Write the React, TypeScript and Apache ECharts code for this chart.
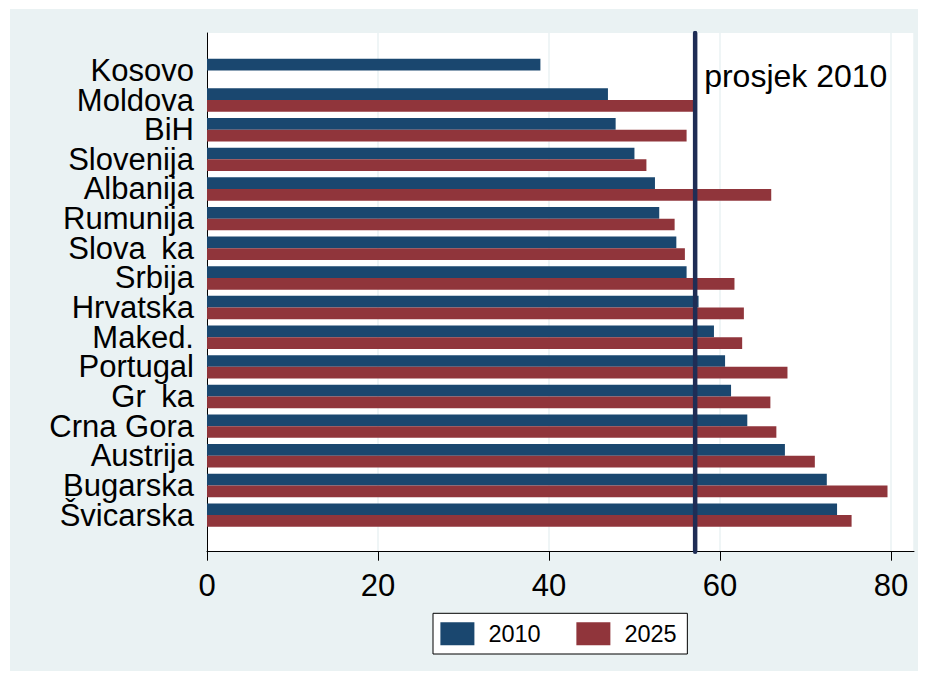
import React, { useEffect, useRef } from "react";
import * as echarts from "echarts";

const countries = [
  "Kosovo", "Moldova", "BiH", "Slovenija", "Albanija", "Rumunija", "Slova\u2002ka", "Srbija",
  "Hrvatska", "Maked.", "Portugal", "Gr\u2002ka", "Crna Gora", "Austrija", "Bugarska", "Švicarska",
];
const values2010 = [39.0, 46.9, 47.8, 50.0, 52.4, 52.9, 54.9, 56.1, 57.5, 59.3, 60.6, 61.3, 63.2, 67.6, 72.5, 73.7];
const values2025 = [null, 57.1, 56.1, 51.4, 66.0, 54.7, 55.9, 61.7, 62.8, 62.6, 67.9, 65.9, 66.6, 71.1, 79.6, 75.4];
const mean2010 = 57.1;
const meanLabel = "prosjek 2010";
const seriesNames = ["2010", "2025"];
const xTicks = [0, 20, 40, 60, 80];

const FONT = "Liberation Sans, Arial, sans-serif";
const BG = "#eaf2f3";
const NAVY = "#1a476f";
const MAROON = "#90353b";
const LINE = "#1f2d55";

export default function App() {
  const ref = useRef<HTMLDivElement>(null);
  useEffect(() => {
    if (!ref.current) return;
    const chart = echarts.init(ref.current, undefined, { renderer: "svg" });
    const xMax = 82.7;
    chart.setOption({
      animation: false,
      backgroundColor: "#ffffff",
      textStyle: { fontFamily: FONT },
      graphic: [
        {
          type: "rect",
          z: -10,
          silent: true,
          shape: { x: 10, y: 9, width: 908, height: 662 },
          style: { fill: BG },
        },
      ],
      grid: [
        { left: 207, top: 33, width: 707, height: 518.7, show: true, backgroundColor: "#ffffff", borderWidth: 0 },
        { left: 207, top: 55.6, width: 707, height: 474.3 },
      ],
      xAxis: [
        {
          gridIndex: 0,
          type: "value",
          min: 0,
          max: xMax,
          interval: 20,
          axisLine: { show: true, lineStyle: { color: "#000", width: 1 } },
          axisTick: { show: true, length: 9, lineStyle: { color: "#000", width: 1 } },
          axisLabel: {
            fontSize: 31,
            color: "#000",
            fontFamily: FONT,
            margin: 18,
            showMaxLabel: false,
            formatter: (v: number) => (xTicks.includes(v) ? String(v) : ""),
          },
          splitLine: { show: true, lineStyle: { color: BG, width: 1.5 } },
        },
        { gridIndex: 1, type: "value", min: 0, max: xMax, show: false },
      ],
      yAxis: [
        {
          gridIndex: 0,
          type: "value",
          min: 0,
          max: 1,
          axisLine: { show: true, lineStyle: { color: "#000", width: 1 } },
          axisTick: { show: false },
          axisLabel: { show: false },
          splitLine: { show: false },
        },
        {
          gridIndex: 1,
          type: "category",
          inverse: true,
          data: countries,
          axisLine: { show: false },
          axisTick: { show: false },
          axisLabel: {
            interval: 0,
            fontSize: 31,
            lineHeight: 28,
            color: "#000",
            fontFamily: FONT,
            margin: 13,
            verticalAlign: "middle",
          },
          splitLine: { show: false },
        },
      ],
      legend: {
        data: seriesNames,
        left: 433,
        top: 613.3,
        orient: "horizontal",
        backgroundColor: "#ffffff",
        borderColor: "#000",
        borderWidth: 1,
        borderRadius: 0,
        padding: [8.4, 10.7, 8.3, 7.4],
        itemWidth: 34,
        itemHeight: 23,
        itemGap: 35.7,
        icon: "rect",
        textStyle: { fontSize: 23.5, color: "#000", fontFamily: FONT, padding: [10, 0, 0, 9] },
      },
      series: [
        {
          name: seriesNames[0],
          type: "bar",
          xAxisIndex: 1,
          yAxisIndex: 1,
          data: values2010,
          barWidth: 11.7,
          barGap: "0%",
          itemStyle: { color: NAVY },
        },
        {
          name: seriesNames[1],
          type: "bar",
          xAxisIndex: 1,
          yAxisIndex: 1,
          data: values2025,
          barWidth: 11.7,
          barGap: "0%",
          itemStyle: { color: MAROON },
        },
        {
          type: "line",
          xAxisIndex: 0,
          yAxisIndex: 0,
          data: [
            [mean2010, 0],
            [mean2010, 1],
          ],
          symbol: "none",
          z: 5,
          lineStyle: { color: LINE, width: 4.5, cap: "round" },
          silent: true,
        },
        {
          type: "scatter",
          xAxisIndex: 0,
          yAxisIndex: 0,
          data: [[mean2010, 0.917]],
          symbolSize: 0,
          silent: true,
          itemStyle: { color: "#000", opacity: 1 },
          label: {
            show: true,
            position: "right",
            distance: 9,
            formatter: meanLabel,
            fontSize: 32,
            color: "#000",
            opacity: 1,
            fontFamily: FONT,
          },
        },
      ],
    });
    return () => chart.dispose();
  }, []);
  return (
    <div
      ref={ref}
      style={{ position: "fixed", left: 0, top: 0, width: 925, height: 679 }}
    />
  );
}
